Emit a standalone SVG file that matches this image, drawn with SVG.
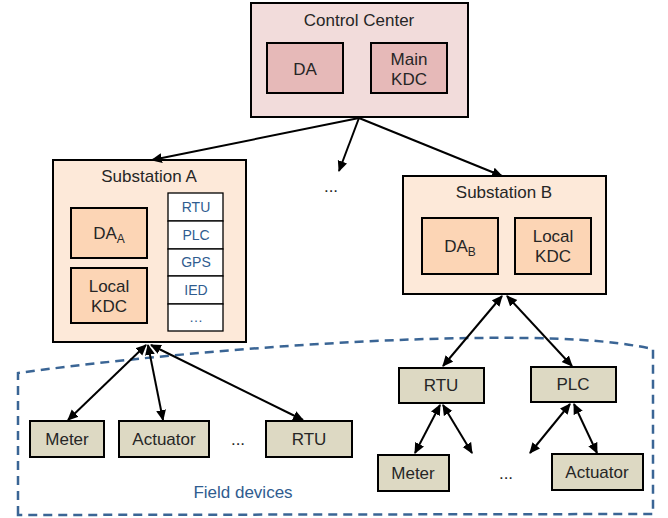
<svg xmlns="http://www.w3.org/2000/svg" width="668" height="518" viewBox="0 0 668 518">
<defs>
<marker id="ah" viewBox="0 0 10 10" refX="9" refY="5" markerWidth="5.5" markerHeight="5.5" orient="auto-start-reverse" markerUnits="strokeWidth">
<path d="M0,0.5 L10,5 L0,9.5 Z" fill="#000"/>
</marker>
<style>
text{font-family:"Liberation Sans",Arial,sans-serif;fill:#262626;text-anchor:middle}
.b{stroke:#000;stroke-width:2}
.cc{fill:#f2dcdb}
.cci{fill:#e6b9b8}
.ss{fill:#fde9d9}
.ssi{fill:#fcd5b5}
.fd{fill:#ddd9c3}
.li{fill:#fff;stroke:#000;stroke-width:1.3}
.lt{font-size:14px;fill:#2f5c8f}
.t17{font-size:17px}
.c{fill:none;stroke:#000;stroke-width:2;marker-end:url(#ah)}
.d{fill:none;stroke:#000;stroke-width:2;marker-end:url(#ah);marker-start:url(#ah)}
</style>
</defs>
<g id="field-region">
<path d="M18,515 L18,373 C150,355 330,340 470,338 C560,337 610,340 653,349 L653,514 Z" fill="none" stroke="#3a6595" stroke-width="2.5" stroke-dasharray="9,6"/>
<text x="243" y="498" class="t17" style="fill:#2f5c8f">Field devices</text>
</g>
<g id="control-center">
<rect x="251" y="3" width="217" height="114" class="cc b"/>
<text x="359" y="26" class="t17">Control Center</text>
<rect x="267" y="43" width="76" height="50" class="cci b"/>
<text x="305" y="75" class="t17">DA</text>
<rect x="371" y="43" width="76" height="50" class="cci b"/>
<text x="409" y="65" class="t17">Main</text>
<text x="409" y="85" class="t17">KDC</text>
</g>
<g id="substation-a">
<rect x="53" y="160" width="193" height="182" class="ss b"/>
<text x="149" y="182" class="t17">Substation A</text>
<rect x="71" y="208" width="76" height="50" class="ssi b"/>
<text x="109" y="239" class="t17">DA<tspan font-size="12" dy="4">A</tspan></text>
<rect x="71" y="268" width="76" height="55" class="ssi b"/>
<text x="109" y="292" class="t17">Local</text>
<text x="109" y="312" class="t17">KDC</text>
<g id="device-list">
<rect x="168" y="193" width="55" height="28" class="li"/>
<rect x="168" y="221" width="55" height="28" class="li"/>
<rect x="168" y="249" width="55" height="27" class="li"/>
<rect x="168" y="276" width="55" height="28" class="li"/>
<rect x="168" y="304" width="55" height="27" class="li"/>
<text x="196" y="212" class="lt">RTU</text>
<text x="196" y="240" class="lt">PLC</text>
<text x="196" y="267" class="lt">GPS</text>
<text x="196" y="295" class="lt">IED</text>
<text x="196" y="322" class="lt">…</text>
</g>
</g>
<g id="substation-b">
<rect x="403" y="176" width="203" height="118" class="ss b"/>
<text x="504" y="198" class="t17">Substation B</text>
<rect x="422" y="218" width="76" height="56" class="ssi b"/>
<text x="460" y="252" class="t17">DA<tspan font-size="12" dy="4">B</tspan></text>
<rect x="515" y="218" width="76" height="56" class="ssi b"/>
<text x="553" y="242" class="t17">Local</text>
<text x="553" y="262" class="t17">KDC</text>
</g>
<g id="ellipsis-mid"><text x="331" y="192" class="t17">...</text></g>
<g id="meter-a"><rect x="30" y="421" width="74" height="36" class="fd b"/><text x="67" y="445" class="t17">Meter</text></g>
<g id="actuator-a"><rect x="119" y="421" width="90" height="36" class="fd b"/><text x="164" y="445" class="t17">Actuator</text></g>
<g id="ellipsis-a"><text x="238" y="445" class="t17">...</text></g>
<g id="rtu-a"><rect x="266" y="421" width="86" height="36" class="fd b"/><text x="309" y="445" class="t17">RTU</text></g>
<g id="rtu-b"><rect x="399" y="368" width="85" height="35" class="fd b"/><text x="441" y="391" class="t17">RTU</text></g>
<g id="plc-b"><rect x="531" y="367" width="85" height="35" class="fd b"/><text x="573" y="390" class="t17">PLC</text></g>
<g id="meter-b"><rect x="378" y="455" width="71" height="36" class="fd b"/><text x="413" y="479" class="t17">Meter</text></g>
<g id="ellipsis-b"><text x="506" y="479" class="t17">...</text></g>
<g id="actuator-b"><rect x="552" y="454" width="91" height="36" class="fd b"/><text x="597" y="478" class="t17">Actuator</text></g>
<g id="connectors">
<line x1="359" y1="118" x2="152" y2="160" class="c"/>
<line x1="359" y1="118" x2="339" y2="171" class="c"/>
<line x1="359" y1="118" x2="502" y2="176" class="c"/>
<line x1="146" y1="345" x2="68" y2="420" class="d"/>
<line x1="148" y1="345" x2="163" y2="420" class="d"/>
<line x1="151" y1="345" x2="303" y2="420" class="d"/>
<line x1="502" y1="296" x2="443" y2="366" class="d"/>
<line x1="507" y1="296" x2="572" y2="366" class="d"/>
<line x1="440" y1="405" x2="415" y2="453" class="d"/>
<line x1="443" y1="405" x2="472" y2="453" class="d"/>
<line x1="570" y1="404" x2="530" y2="453" class="d"/>
<line x1="574" y1="404" x2="597" y2="453" class="d"/>
</g>
</svg>
